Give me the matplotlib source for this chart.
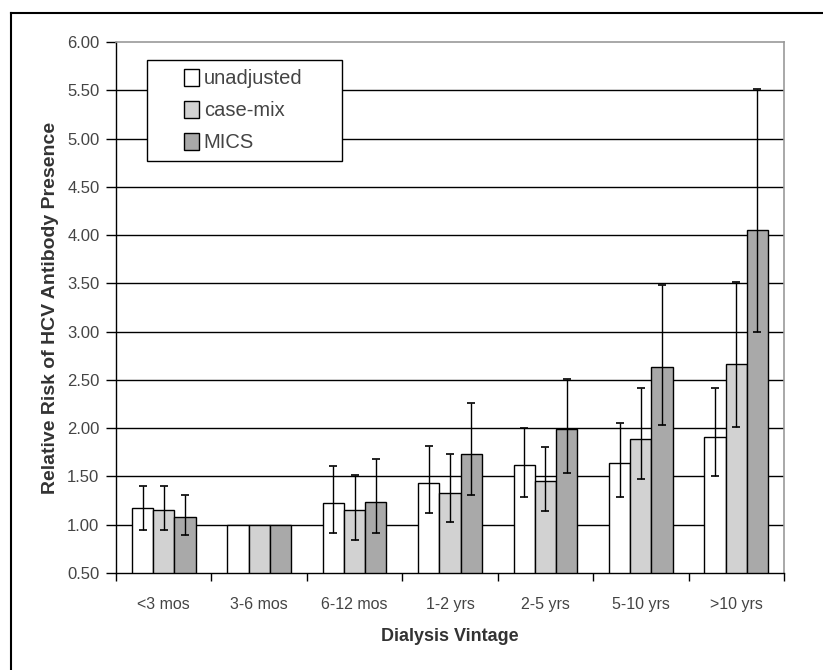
import numpy as np
import matplotlib.pyplot as plt
from matplotlib.lines import Line2D
from matplotlib.patches import Rectangle

plt.rcParams['font.family'] = ['Liberation Sans', 'DejaVu Sans']

categories = ['<3 mos', '3-6 mos', '6-12 mos', '1-2 yrs', '2-5 yrs', '5-10 yrs', '>10 yrs']
series = ['unadjusted', 'case-mix', 'MICS']

unadjusted = [1.17, 1.00, 1.22, 1.43, 1.62, 1.64, 1.91]
unadj_lo = [0.95, 1.00, 0.91, 1.12, 1.29, 1.29, 1.50]
unadj_hi = [1.40, 1.00, 1.61, 1.82, 2.00, 2.05, 2.42]

casemix = [1.15, 1.00, 1.15, 1.33, 1.45, 1.89, 2.66]
casemix_lo = [0.95, 1.00, 0.84, 1.03, 1.14, 1.47, 2.01]
casemix_hi = [1.40, 1.00, 1.52, 1.73, 1.80, 2.42, 3.51]

mics = [1.08, 1.00, 1.24, 1.73, 1.99, 2.63, 4.05]
mics_lo = [0.89, 1.00, 0.91, 1.31, 1.54, 2.03, 3.00]
mics_hi = [1.31, 1.00, 1.68, 2.26, 2.51, 3.48, 5.51]

values = [unadjusted, casemix, mics]
lows = [unadj_lo, casemix_lo, mics_lo]
highs = [unadj_hi, casemix_hi, mics_hi]
colors = ['#ffffff', '#d2d2d2', '#a9a9a9']

fig = plt.figure(figsize=(8.23, 6.70), dpi=100)
ax = fig.add_axes([0.141, 0.1448, 0.8116, 0.7925])

x = np.arange(len(categories))
w = 1 / 4.5
for i in range(3):
    v = np.array(values[i])
    lo = np.array(lows[i])
    hi = np.array(highs[i])
    pos = x + (i - 1) * w
    ax.bar(pos, v - 0.5, width=w, bottom=0.5, color=colors[i],
           edgecolor='black', linewidth=1.0, zorder=3, label=series[i])
    has_err = hi > lo
    ax.errorbar(pos[has_err], v[has_err],
                yerr=[v[has_err] - lo[has_err], hi[has_err] - v[has_err]],
                fmt='none', ecolor='black', elinewidth=1.0, capsize=3.2,
                capthick=1.2, zorder=4)

ax.set_xlim(-0.5, len(categories) - 0.5)
ax.set_ylim(0.5, 6.0)
yt = np.arange(0.5, 6.01, 0.5)
ax.set_yticks(yt)
ax.set_yticklabels(['%.2f' % t for t in yt])
for t in yt[1:-1]:
    ax.axhline(t, color='black', linewidth=1.0, zorder=1)

ax.set_xticks(x)
ax.set_xticklabels(categories)
ax.set_xticks(np.arange(-0.5, len(categories), 1.0), minor=True)
ax.tick_params(axis='x', which='major', length=0, pad=17, labelsize=11.5, labelcolor='#444444')
ax.tick_params(axis='x', which='minor', length=6, width=1.0, direction='out')
ax.tick_params(axis='y', length=7, width=1.0, direction='out', labelsize=12,
               labelcolor='#444444', pad=5)

for s in ['top', 'right']:
    ax.spines[s].set_color('#999999')
    ax.spines[s].set_linewidth(1.2)
for s in ['left', 'bottom']:
    ax.spines[s].set_color('black')
    ax.spines[s].set_linewidth(1.0)

ax.set_xlabel('Dialysis Vintage', fontsize=13, fontweight='bold', color='#333333', labelpad=12)
ax.set_ylabel('Relative Risk of HCV Antibody Presence', fontsize=14, fontweight='bold',
              color='#333333', labelpad=6)

# legend box drawn separately (wide horizontal padding like the original)
ax.add_patch(Rectangle((0.0464, 0.7759), 0.2919, 0.1902, transform=ax.transAxes,
                       facecolor='white', edgecolor='black', linewidth=1.0, zorder=5))
leg = ax.legend(loc='upper left', bbox_to_anchor=(0.101, 0.950), fontsize=14.5,
                frameon=False, handlelength=0.75, handleheight=0.95,
                handletextpad=0.25, borderpad=0, labelspacing=0.62,
                borderaxespad=0)
leg.set_zorder(6)
for txt in leg.get_texts():
    txt.set_color('#444444')

# outer frame (left and top edges visible)
fig.add_artist(Line2D([0.0134, 0.0134], [0.0, 0.9806], color='black', linewidth=1.5))
fig.add_artist(Line2D([0.0134, 1.0], [0.9806, 0.9806], color='black', linewidth=1.5))

fig.savefig('out.png', dpi=100)
